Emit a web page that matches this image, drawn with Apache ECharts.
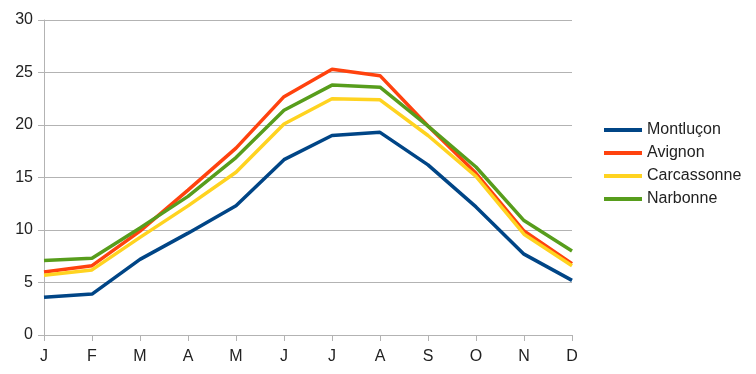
<!DOCTYPE html>
<html><head><meta charset="utf-8">
<script src="https://cdn.jsdelivr.net/npm/echarts@6/dist/echarts.min.js"></script>
<style>html,body{margin:0;padding:0;background:#fff}#c{width:756px;height:374px}</style>
</head><body><div id="c"></div>
<script>
const categories = ['J','F','M','A','M','J','J','A','S','O','N','D'];
const montlucon = [3.6, 3.9, 7.2, 9.7, 12.3, 16.7, 19.0, 19.3, 16.2, 12.2, 7.7, 5.2];
const avignon = [6.0, 6.6, 9.9, 13.8, 17.8, 22.7, 25.3, 24.7, 19.9, 15.4, 9.9, 6.8];
const carcassonne = [5.7, 6.2, 9.3, 12.3, 15.5, 20.1, 22.5, 22.4, 19.0, 15.1, 9.6, 6.6];
const narbonne = [7.1, 7.3, 10.2, 13.2, 16.9, 21.4, 23.8, 23.6, 19.9, 16.0, 10.9, 8.0];
const seriesNames = ['Montluçon','Avignon','Carcassonne','Narbonne'];
const colors = ['#004586','#ff420e','#ffd320','#579d1c'];
const allData = [montlucon, avignon, carcassonne, narbonne];

const chart = echarts.init(document.getElementById('c'), null, {renderer:'canvas'});
const font = 'Liberation Sans, Arial, sans-serif';
chart.setOption({
  animation:false,
  textStyle:{fontFamily:font},
  grid:{left:44, right:184, top:20, bottom:39, containLabel:false},
  legend:{
    orient:'vertical', left:599, top:117, icon:'rect', itemWidth:38, itemHeight:4, itemGap:7,
    textStyle:{fontSize:16, color:'#222', fontFamily:font},
    data: seriesNames
  },
  xAxis:{
    type:'category', data:categories, boundaryGap:false,
    axisLine:{lineStyle:{color:'#b3b3b3'}},
    axisTick:{show:true, length:6, lineStyle:{color:'#b3b3b3'}},
    axisLabel:{color:'#222', fontSize:16, margin:14, fontFamily:font},
    splitLine:{show:false}
  },
  yAxis:{
    type:'value', min:0, max:30, interval:5,
    axisLine:{show:true, lineStyle:{color:'#b3b3b3'}},
    axisTick:{show:true, length:6, lineStyle:{color:'#b3b3b3'}},
    axisLabel:{color:'#222', fontSize:16, margin:11, fontFamily:font},
    splitLine:{lineStyle:{color:'#b3b3b3'}}
  },
  series: seriesNames.map((n,i)=>({
    name:n, type:'line', data:allData[i], symbol:'none',
    lineStyle:{width:3.5, color:colors[i]}, itemStyle:{color:colors[i]}
  }))
});
</script></body></html>
